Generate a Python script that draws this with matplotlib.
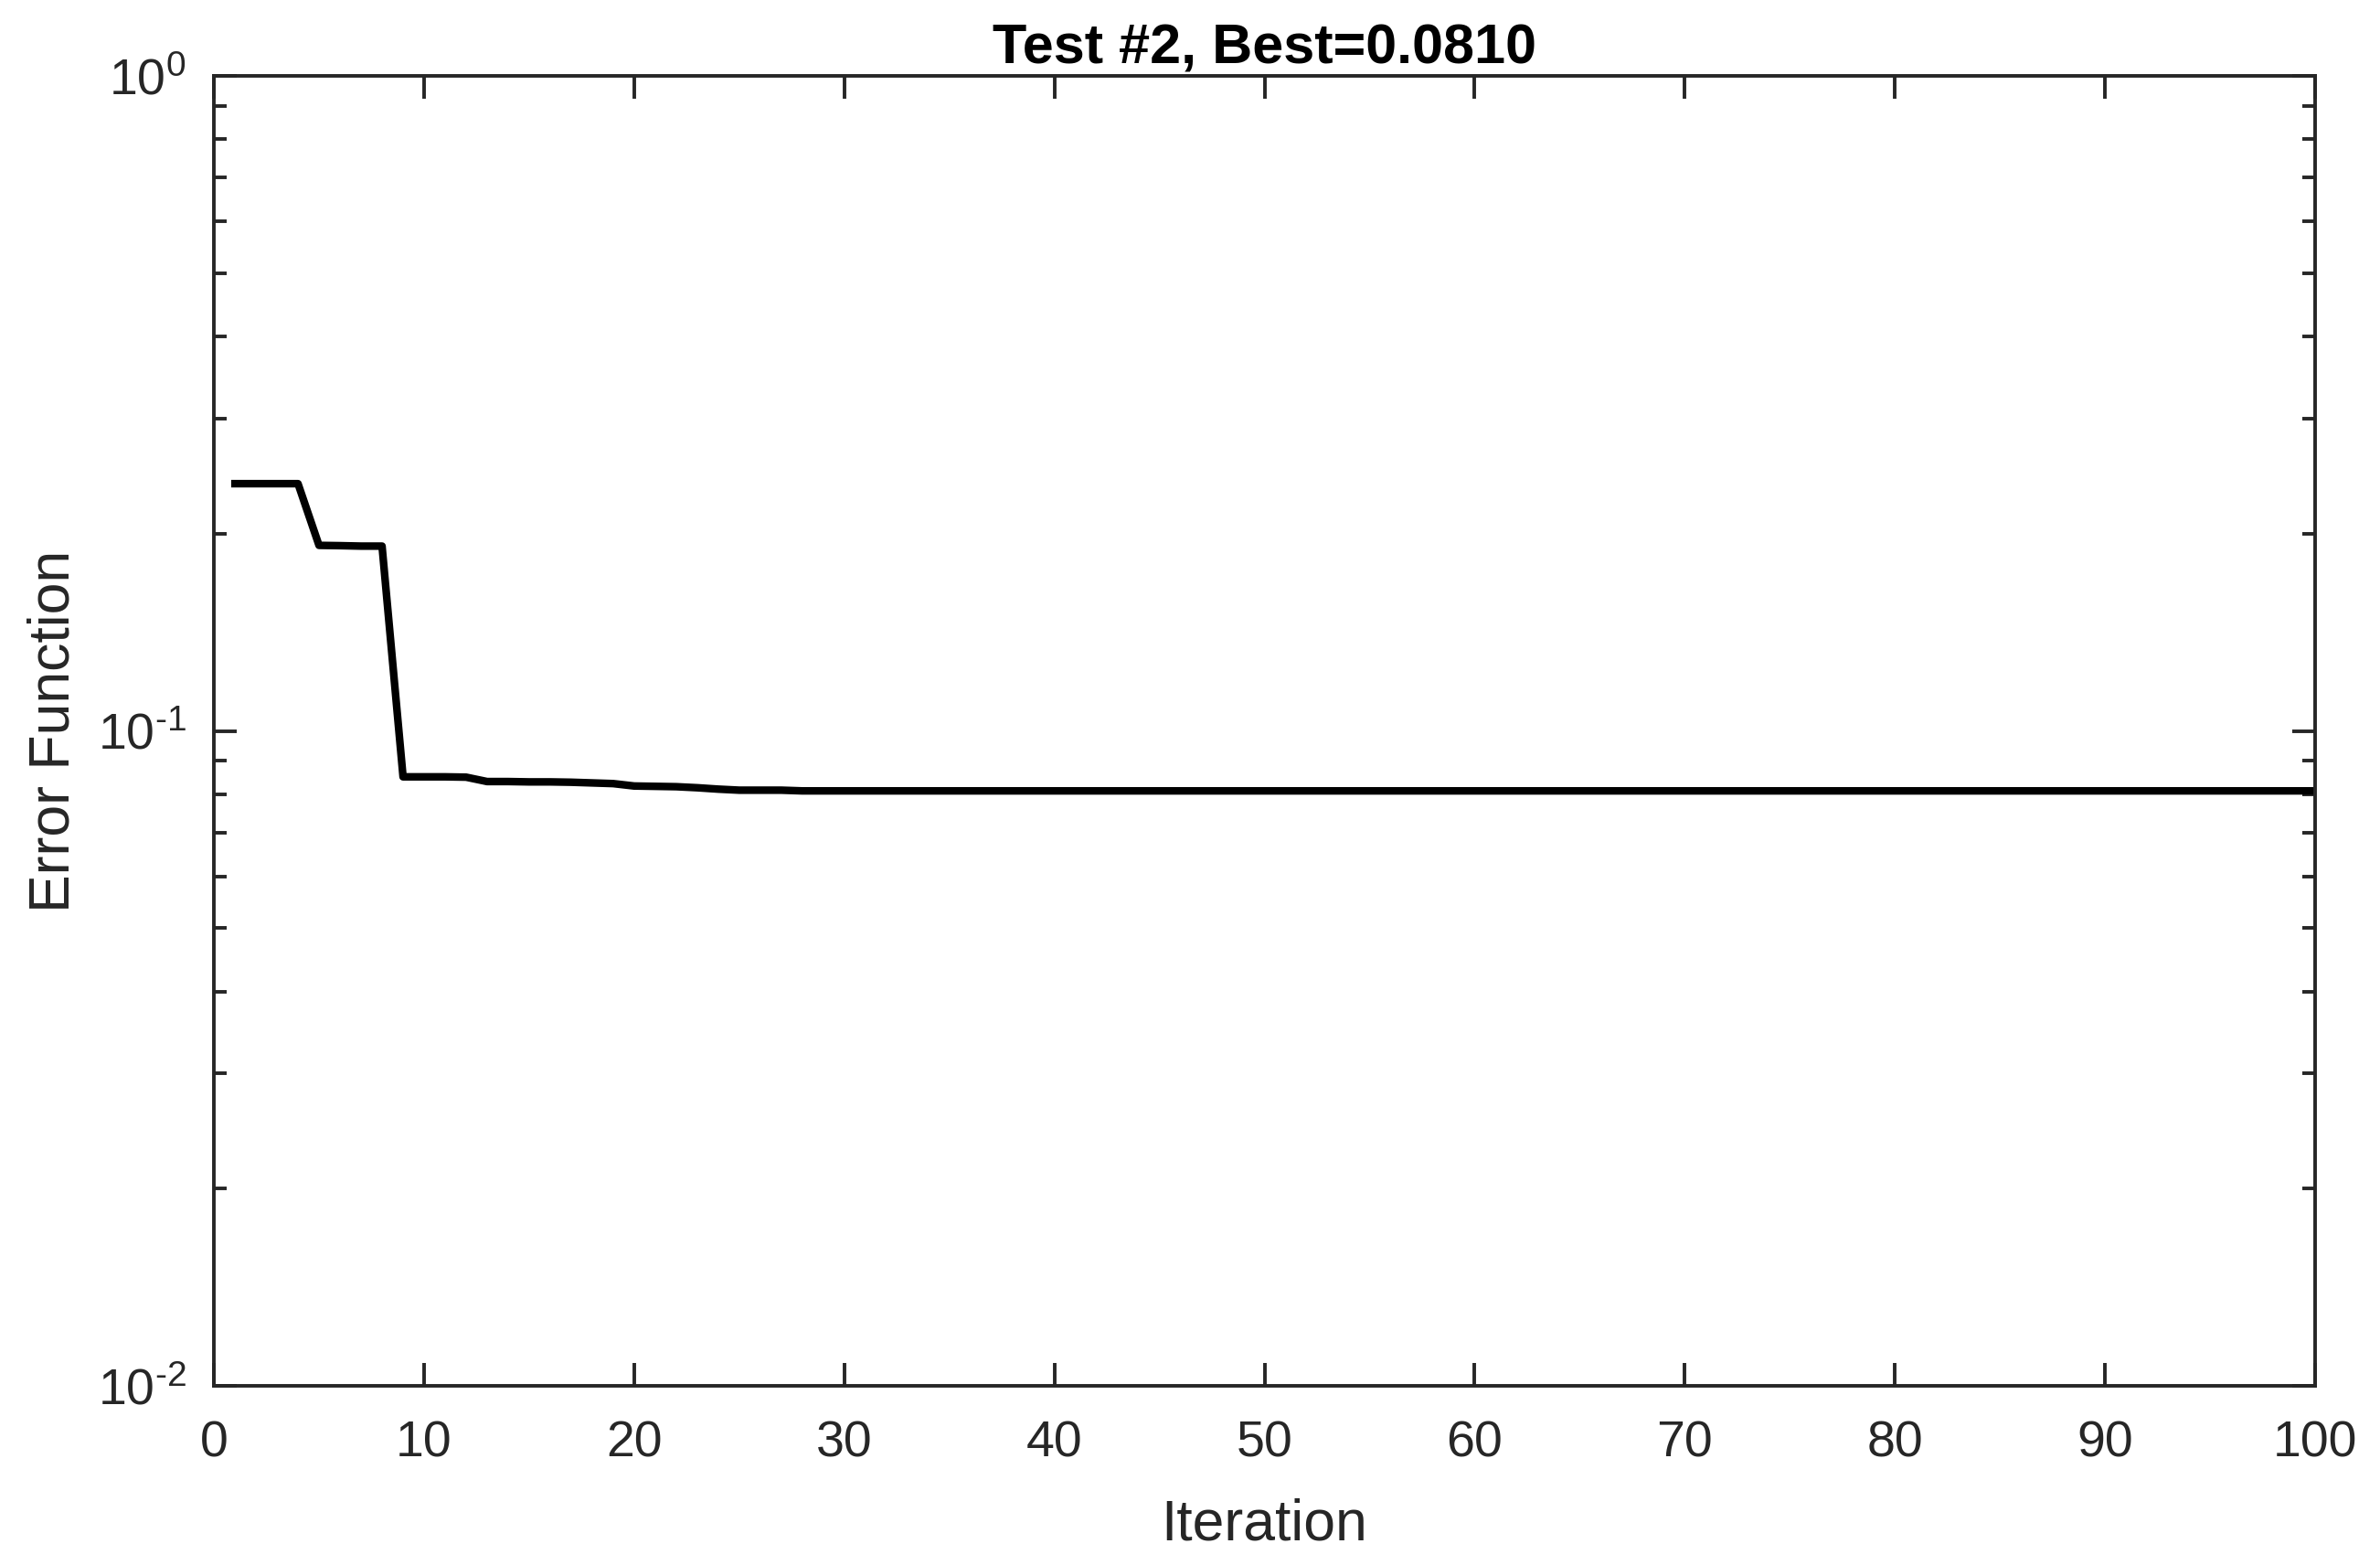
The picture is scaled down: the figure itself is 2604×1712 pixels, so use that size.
import numpy as np
import matplotlib
matplotlib.use("Agg")
import matplotlib.pyplot as plt
from matplotlib.ticker import FixedLocator, LogLocator, FuncFormatter

plt.rcParams["font.family"] = ["Liberation Sans", "DejaVu Sans"]
plt.rcParams["mathtext.fontset"] = "custom"
plt.rcParams["mathtext.rm"] = "Liberation Sans"
plt.rcParams["mathtext.it"] = "Liberation Sans"

# best error per iteration
iterations = np.arange(1, 101)
early_errors = [0.2385, 0.2385, 0.2385, 0.2385,
                0.1920, 0.1918, 0.1915, 0.1915,
                0.0851, 0.0851, 0.0851, 0.0850,
                0.0837, 0.0837, 0.0836, 0.0836, 0.0835,
                0.0833, 0.0831, 0.0824, 0.0823, 0.0822,
                0.0819, 0.0815, 0.0812, 0.0812, 0.0812]
best_error = 0.0810
errors = early_errors + [best_error] * (len(iterations) - len(early_errors))

x_ticks = list(range(0, 101, 10))
y_ticks = [1e-2, 1e-1, 1e0]


def log_label(v, pos):
    e = int(round(np.log10(v)))
    if e < 0:
        return r"$\mathregular{10^{\text{-}%d}}$" % (-e)
    return r"$\mathregular{10^{%d}}$" % e


fig = plt.figure(figsize=(26.04, 17.12), dpi=100)
ax = fig.add_axes([0.0899, 0.1144, 0.8828, 0.8371])

ax.plot(iterations, errors, color="black", linewidth=6)

ax.set_yscale("log")
ax.set_xlim(0, 100)
ax.set_ylim(1e-2, 1e0)
ax.xaxis.set_major_locator(FixedLocator(x_ticks))
ax.yaxis.set_major_locator(FixedLocator(y_ticks))
ax.yaxis.set_minor_locator(LogLocator(base=10, subs=np.arange(2, 10)))
ax.yaxis.set_major_formatter(FuncFormatter(log_label))

ax.tick_params(which="both", direction="in", top=True, right=True,
               color="#262626", labelcolor="#262626", labelsize=40, width=2.8)
ax.tick_params(which="major", length=18)
ax.tick_params(which="minor", length=10)
ax.tick_params(axis="x", which="major", pad=27)
ax.tick_params(axis="y", which="major", pad=22)
ax.tick_params(axis="x", which="minor", top=False, bottom=False)
for s in ax.spines.values():
    s.set_linewidth(2.8)
    s.set_color("#262626")

ax.set_xlabel("Iteration", fontsize=45, color="#262626", labelpad=24)
ax.set_ylabel("Error Function", fontsize=45, color="#262626", labelpad=13)
ax.set_title("Test #2, Best=%.4f" % best_error, fontsize=44,
             fontweight="bold", pad=10)

fig.savefig("out.png", dpi=100)
